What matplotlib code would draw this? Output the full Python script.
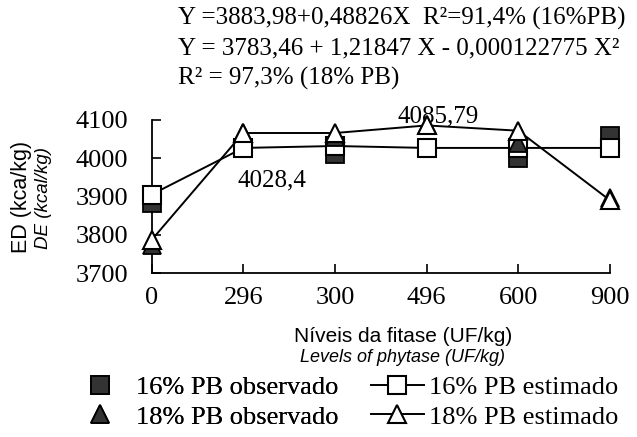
import matplotlib
matplotlib.use("Agg")
import matplotlib.pyplot as plt
from matplotlib.lines import Line2D

levels = ['0', '296', '300', '496', '600', '900']
est16 = [3905, 4027, 4032, 4027, 4027, 4027]
est18 = [3786, 4066, 4066, 4085.79, 4072, 3890]
obs16 = [3883, 4027, 4010, 4027, 4000, 4057]
obs18 = [3773, 4066, 4056, 4085.79, 4039, 3897]
yticks = [3700, 3800, 3900, 4000, 4100]

SERIF = 'Liberation Serif'
SANS = 'Liberation Sans'
FS = 18
DARK = '#333333'

W, H = 637, 437
fig = plt.figure(figsize=(W / 100, H / 100), dpi=100)
ax = fig.add_axes([151.5 / W, 1 - 273 / H, (610 - 151.5) / W, (273 - 120) / H])

x = list(range(len(levels)))
ms = 12.5
ax.plot(x, obs16, ls='none', marker='s', ms=ms, mfc=DARK, mec='black', mew=1.3,
        zorder=3, clip_on=False)
ax.plot(x, est16, ls='-', color='black', lw=1.4, marker='s', ms=ms, mfc='white',
        mec='black', mew=1.5, zorder=4, clip_on=False)
ax.plot(x, obs18, ls='none', marker='^', ms=ms, mfc=DARK, mec='black', mew=1.3,
        zorder=5, clip_on=False)
ax.plot(x, est18, ls='-', color='black', lw=1.4, marker='^', ms=ms, mfc='white',
        mec='black', mew=1.5, zorder=6, clip_on=False)

ax.set_xlim(0, len(levels) - 1)
ax.set_ylim(yticks[0], yticks[-1])
ax.set_xticks(x)
ax.set_xticklabels(levels, fontfamily=SERIF, fontsize=19)
ax.set_yticks(yticks)
ax.set_yticklabels([str(v) for v in yticks], fontfamily=SERIF, fontsize=19)
ax.tick_params(axis='both', direction='in', length=6.5, width=1.2)
ax.tick_params(axis='y', pad=17)
ax.tick_params(axis='x', pad=10)
for s in ['top', 'right']:
    ax.spines[s].set_visible(False)
for s in ['left', 'bottom']:
    ax.spines[s].set_linewidth(1.3)

ax.text(1.31, 3943, '4028,4', fontfamily=SERIF, fontsize=FS, ha='center', va='center')
ax.text(3.125, 4110, '4085,79', fontfamily=SERIF, fontsize=FS, ha='center', va='center')

# equations
eqs = ['Y =3883,98+0,48826X  R²=91,4% (16%PB)',
       'Y = 3783,46 + 1,21847 X - 0,000122775 X²',
       'R² = 97,3% (18% PB)']
for i, t in enumerate(eqs):
    fig.text(178 / W, 1 - (18 + 30 * i) / H, t, fontfamily=SERIF, fontsize=FS,
             ha='left', va='center')

# y labels
fig.text(22 / W, 1 - 197 / H, 'ED (kca/kg)', fontfamily=SANS, fontsize=15.5,
         rotation=90, ha='center', va='center')
fig.text(43 / W, 1 - 198 / H, 'DE (kcal/kg)', fontfamily=SANS, fontsize=13.5,
         style='italic', rotation=90, ha='center', va='center')

# x labels
fig.text(403 / W, 1 - 337 / H, 'Níveis da fitase (UF/kg)', fontfamily=SANS,
         fontsize=15, ha='center', va='center')
fig.text(403 / W, 1 - 358 / H, 'Levels of phytase (UF/kg)', fontfamily=SANS,
         fontsize=13, style='italic', ha='center', va='center')

LFS = 19
h_obs = [
    Line2D([], [], ls='none', marker='s', ms=ms, mfc=DARK, mec='black', mew=1.3),
    Line2D([], [], ls='none', marker='^', ms=ms, mfc=DARK, mec='black', mew=1.3),
]
h_est = [
    Line2D([], [], ls='-', color='black', lw=1.4, marker='s', ms=ms, mfc='white', mec='black', mew=1.5),
    Line2D([], [], ls='-', color='black', lw=1.4, marker='^', ms=ms, mfc='white', mec='black', mew=1.5),
]
l_obs = ['16% PB observado', '18% PB observado']
l_est = ['16% PB estimado', '18% PB estimado']
yc = 1 - 402 / H
leg1 = fig.legend(h_obs, l_obs, loc='center left', bbox_to_anchor=(74 / W, yc),
                  frameon=False, prop={'family': SERIF, 'size': LFS},
                  handlelength=2.0, handletextpad=0.34, labelspacing=0.24,
                  borderpad=0, borderaxespad=0)
leg2 = fig.legend(h_est, l_est, loc='center left', bbox_to_anchor=(371 / W, yc),
                  frameon=False, prop={'family': SERIF, 'size': LFS},
                  handlelength=2.0, handletextpad=0.2, labelspacing=0.24,
                  borderpad=0, borderaxespad=0)
fig.add_artist(leg1)

fig.savefig('out.png', dpi=100)
